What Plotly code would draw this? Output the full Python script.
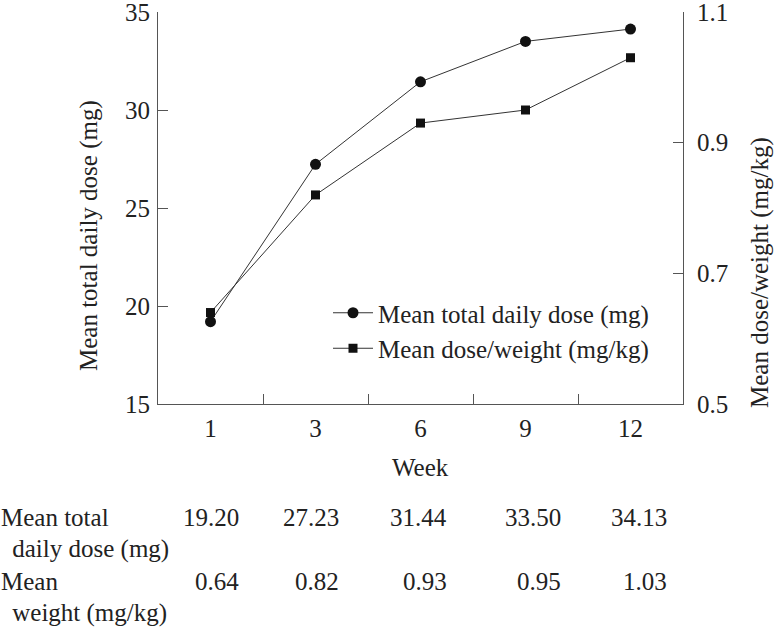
import plotly.graph_objects as go

weeks = ["1", "3", "6", "9", "12"]
total_dose = [19.20, 27.23, 31.44, 33.50, 34.13]
dose_weight = [0.64, 0.82, 0.93, 0.95, 1.03]
total_dose_labels = ["19.20", "27.23", "31.44", "33.50", "34.13"]
dose_weight_labels = ["0.64", "0.82", "0.93", "0.95", "1.03"]
row_labels = [["Mean total", " daily dose (mg)"], ["Mean", " weight (mg/kg)"]]

FONT = "Liberation Serif"
FS = 25
W, H = 774, 629
L, R, T, B = 158, 91, 12, 225
PW = W - L - R
PH = H - T - B

def px(xp):
    return (xp - L) / PW

def py(yp):
    return (H - B - yp) / PH

fig = go.Figure()
fig.add_trace(go.Scatter(
    x=weeks, y=total_dose, name="Mean total daily dose (mg)",
    mode="lines+markers",
    line=dict(color="#333333", width=1),
    marker=dict(symbol="circle", size=11, color="#111111"),
))
fig.add_trace(go.Scatter(
    x=weeks, y=dose_weight, name="Mean dose/weight (mg/kg)",
    mode="lines+markers", yaxis="y2",
    line=dict(color="#333333", width=1),
    marker=dict(symbol="square", size=9, color="#111111"),
))

axis_common = dict(
    showline=True, linecolor="#555555", linewidth=1,
    ticks="inside", ticklen=10, tickcolor="#555555", tickwidth=1,
    showgrid=False, zeroline=False, automargin=False,
    ticklabeloverflow="allow",
    tickfont=dict(family=FONT, size=FS, color="#222222"),
)

fig.update_layout(
    width=W, height=H,
    margin=dict(l=L, r=R, t=T, b=B),
    plot_bgcolor="white", paper_bgcolor="white",
    font=dict(family=FONT, size=FS, color="#222222"),
    showlegend=True,
    legend=dict(x=px(328), y=py(290), xanchor="left", yanchor="top",
                bgcolor="rgba(0,0,0,0)", font=dict(family=FONT, size=FS, color="#222222"),
                tracegroupgap=0, itemwidth=40),
    xaxis=dict(**axis_common, type="category", tickson="boundaries",
               range=[-0.5, 4.5], ticklabelstandoff=2),
    yaxis=dict(**axis_common, range=[15, 35], tickvals=[15, 20, 25, 30, 35],
               ticklabelstandoff=2),
    yaxis2=dict(**axis_common, overlaying="y", side="right", range=[0.5, 1.1],
                tickvals=[0.5, 0.7, 0.9, 1.1], tickformat=".1f", ticklabelstandoff=8),
)

ann = []
# axis titles
ann.append(dict(text="Mean total daily dose (mg)", x=px(89), y=py(236), xref="paper", yref="paper",
                showarrow=False, textangle=-90, xanchor="center", yanchor="middle"))
ann.append(dict(text="Mean dose/weight (mg/kg)", x=px(760), y=py(273), xref="paper", yref="paper",
                showarrow=False, textangle=-90, xanchor="center", yanchor="middle"))
ann.append(dict(text="Week", x=px(420), y=py(467), xref="paper", yref="paper",
                showarrow=False, xanchor="center", yanchor="middle"))

# table
row_y = [(517, 549), (581, 613)]
val_right = [241, 341, 449, 563, 669]
for (y1, y2), labels in zip(row_y, row_labels):
    ann.append(dict(text=labels[0], x=px(-1), y=py(y1), xref="paper", yref="paper",
                    showarrow=False, xanchor="left", yanchor="middle"))
    ann.append(dict(text=labels[1], x=px(4), y=py(y2), xref="paper", yref="paper",
                    showarrow=False, xanchor="left", yanchor="middle"))
for vals, (y1, _) in zip([total_dose_labels, dose_weight_labels], row_y):
    for v, xr in zip(vals, val_right):
        ann.append(dict(text=v, x=px(xr), y=py(y1), xref="paper", yref="paper",
                        showarrow=False, xanchor="right", yanchor="middle"))

fig.update_layout(annotations=ann)
fig.write_html("out.html", config={"displayModeBar": False},
               post_script="document.body.style.margin='0';")
